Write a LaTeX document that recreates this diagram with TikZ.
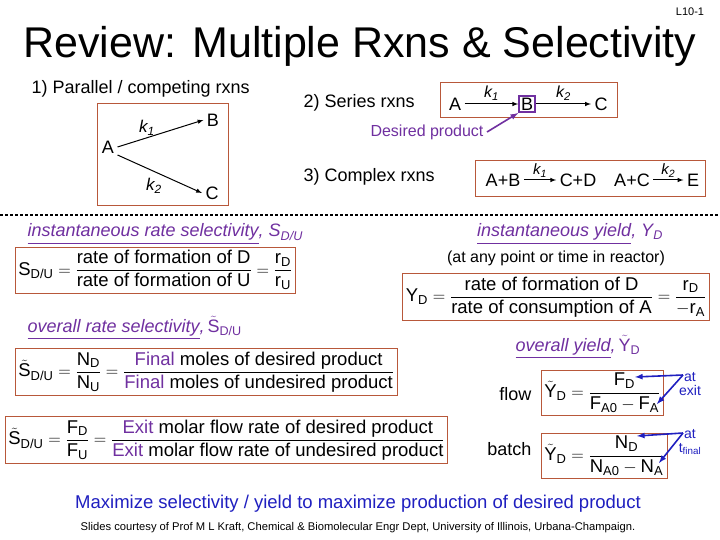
\documentclass[tikz,border=0pt]{standalone}
\usepackage{amsmath}
\usepackage{fontspec}
\setmainfont{Liberation Sans}
\definecolor{bx}{HTML}{B8583A}
\definecolor{pur}{HTML}{7030A0}
\definecolor{blu}{HTML}{1F1FC0}
\newcommand{\fs}[1]{\fontsize{#1}{#1}\selectfont}
\newcommand{\St}{\tilde{\text{S}}}
\newcommand{\Yt}{\tilde{\text{Y}}}
\newcommand{\tx}[1]{\text{#1}}
\begin{document}
\begin{tikzpicture}[x=1pt,y=-1pt,
  box/.style={draw=bx,line width=0.8pt,inner sep=3pt},
  eq/.style={font=\fs{18.5}},
  lab/.style={font=\fs{18}},
  arr/.style={-latex,line width=1pt},
  parr/.style={-latex,line width=1.6pt,pur},
  barr/.style={-latex,line width=1.6pt,blu},
  kk/.style={font=\fs{16}\itshape},
  hd/.style={font=\fs{18}\itshape,text=pur}]
\useasboundingbox (0,0) rectangle (720,540);
\fill[white] (0,0) rectangle (720,540);
\node[font=\fs{11}] (pg) at (690,12) {L10-1};
\node[font=\fs{43}] (title) at (360,46) {Review: Multiple Rxns \& Selectivity};
% 1) parallel
\node[lab,anchor=west] (p1) at (28,89) {1) Parallel / competing rxns};
\draw[bx,line width=0.8pt] (97,103) rectangle (228,205);
\node[lab] (pa) at (108,147) {A};
\node[lab] (pb) at (213,120) {B};
\node[lab] (pc) at (212,193) {C};
\draw[arr] (pa.east) -- (pb.west);
\draw[arr] ([yshift=-8pt]pa.east) -- (pc.west);
\node[kk,font=\fs{17}\itshape] (k1a) at (147,128) {k\textsubscript{1}};
\node[kk,font=\fs{17}\itshape] (k2a) at (154,186) {k\textsubscript{2}};
% 2) series
\node[lab,anchor=west] (s2) at (300,103) {2) Series rxns};
\draw[bx,line width=0.8pt] (440,82) rectangle (617,117);
\node[lab] (sa) at (455,104) {A};
\node[lab,draw=pur,line width=1.6pt,inner sep=2pt] (sb) at (527,104) {B};
\node[lab] (sc) at (601,104) {C};
\draw[arr] (sa.east) -- (sb.west) node[midway,above,kk] (k1b) {k\textsubscript{1}};
\draw[arr] (sb.east) -- (sc.west) node[midway,above,kk] (k2b) {k\textsubscript{2}};
\node[font=\fs{16},text=pur] (dp) at (427,132) {Desired product};
\draw[parr] (dp.east) -- (sb.south west);
% 3) complex
\node[lab,anchor=west] (c3) at (300,177) {3) Complex rxns};
\draw[bx,line width=0.8pt] (475,160) rectangle (705,196);
\node[lab] (ab) at (503,180) {A+B};
\node[lab] (cd) at (578,180) {C+D};
\node[lab] (ac) at (632,180) {A+C};
\node[lab] (ee) at (693,180) {E};
\draw[arr] (ab.east) -- (cd.west) node[midway,above=-1pt,kk,font=\fs{15}\itshape] (k1c) {k\textsubscript{1}};
\draw[arr] (ac.east) -- (ee.west) node[midway,above=-1pt,kk,font=\fs{15}\itshape] (k2c) {k\textsubscript{2}};
% dashed
\draw[line width=2pt,dash pattern=on 3pt off 2pt] (0,215) -- (720,215);
% left
\node[hd,anchor=west] (h1) at (24,234) {\underline{instantaneous rate selectivity},\ S\textsubscript{D/U}};
\node[box,eq,anchor=west] (e1) at (15,270) {$\displaystyle \tx{S}_{\tx{D/U}}=\frac{\tx{rate of formation of D}}{\tx{rate of formation of U}}=\frac{\tx{r}_{\tx{D}}}{\tx{r}_{\tx{U}}}$};
\node[hd,anchor=west] (h2) at (24,328) {\underline{overall rate selectivity},\,\upshape$\St_{\tx{D/U}}$};
\node[box,eq,anchor=west] (e2) at (15,372) {$\displaystyle \St_{\tx{D/U}}=\frac{\tx{N}_{\tx{D}}}{\tx{N}_{\tx{U}}}=\frac{\tx{{\color{pur}Final} moles of desired product}}{\tx{{\color{pur}Final} moles of undesired product}}$};
\node[box,eq,anchor=west] (e3) at (5,440) {$\displaystyle \St_{\tx{D/U}}=\frac{\tx{F}_{\tx{D}}}{\tx{F}_{\tx{U}}}=\frac{\tx{{\color{pur}Exit} molar flow rate of desired product}}{\tx{{\color{pur}Exit} molar flow rate of undesired product}}$};
% right
\node[hd] (h3) at (570,234) {\underline{instantaneous yield},\ Y\textsubscript{D}};
\node[lab,font=\fs{16}] (any) at (556,258) {(at any point or time in reactor)};
\node[box,eq] (e4) at (556,297) {$\displaystyle \tx{Y}_{\tx{D}}=\frac{\tx{rate of formation of D}}{\tx{rate of consumption of A}}=\frac{\tx{r}_{\tx{D}}}{-\tx{r}_{\tx{A}}}$};
\node[hd] (h4) at (578,347) {\underline{overall yield},\,\upshape$\Yt_{\tx{D}}$};
\node[box,eq,anchor=west] (e5) at (541,393) {$\displaystyle \Yt_{\tx{D}}=\frac{\tx{F}_{\tx{D}}}{\tx{F}_{\tx{A0}}-\tx{F}_{\tx{A}}}$};
\node[lab,anchor=east] (fl) at (535,394) {flow};
\node[box,eq,anchor=west] (e6) at (541,456) {$\displaystyle \Yt_{\tx{D}}=\frac{\tx{N}_{\tx{D}}}{\tx{N}_{\tx{A0}}-\tx{N}_{\tx{A}}}$};
\node[lab,anchor=east] (bt) at (535,449) {batch};
\node[font=\fs{14},text=blu,align=center] (ax) at (690,384) {at\\exit};
\coordinate (a1) at (683,375);
\coordinate (fd) at (635,377);
\coordinate (fa) at (657,404);
\draw[barr] (a1) -- (fd);
\draw[barr] (a1) -- (fa);
\node[font=\fs{14},text=blu,align=center] (at2) at (690,442) {at\\t\textsubscript{final}};
\coordinate (a2) at (683,433);
\coordinate (nd) at (637,436);
\coordinate (na) at (659,463);
\draw[barr] (a2) -- (nd);
\draw[barr] (a2) -- (na);
% bottom
\node[font=\fs{18.5},text=blu] (mx) at (358,504) {Maximize selectivity / yield to maximize production of desired product};
\node[font=\fs{11.2}] (cr) at (358,528) {Slides courtesy of Prof M L Kraft, Chemical \& Biomolecular Engr Dept, University of Illinois, Urbana-Champaign.};
\end{tikzpicture}
\end{document}
